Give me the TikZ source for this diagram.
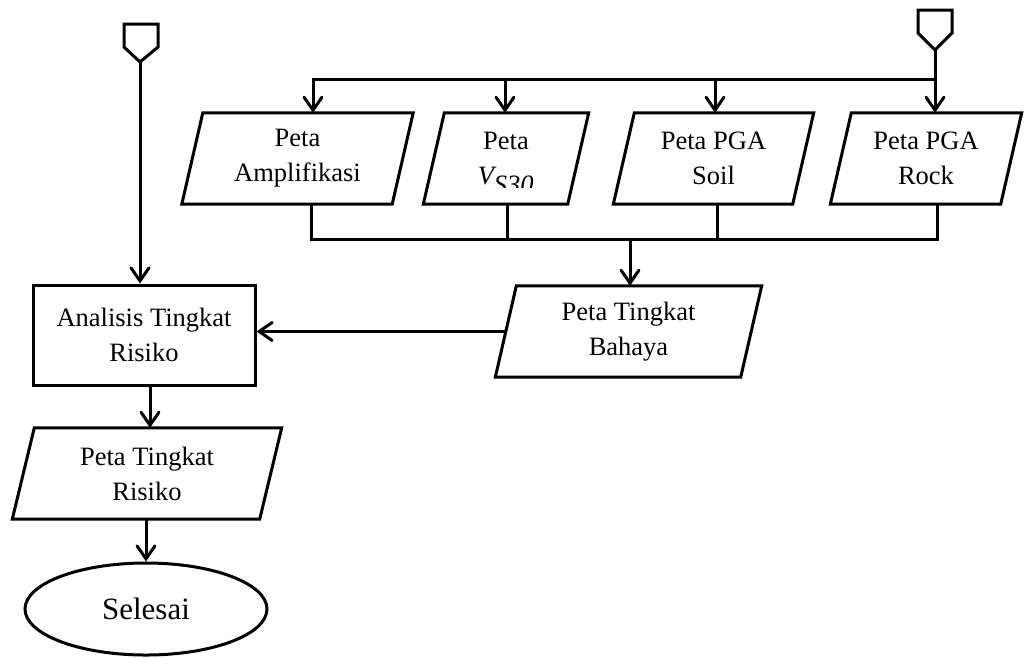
\documentclass[tikz,border=0pt]{standalone}
\usepackage{fontspec}
\setmainfont{Liberation Serif}
\usetikzlibrary{arrows.meta,shapes.geometric}
\newcommand\iopara[2]{\draw[shapeline] ([xshift=#2]#1.north west) -- ([xshift=#2]#1.north east) -- ([xshift=-#2]#1.south east) -- ([xshift=-#2]#1.south west) -- cycle;}
\begin{document}
\begin{tikzpicture}[x=1pt,y=-1pt,
  shapeline/.style={line width=3pt, line join=miter},
  conn/.style={line width=3pt, line cap=rect},
  arr/.style={conn, -{Straight Barb[length=13pt,width=18pt,line cap=round]}},
  txt/.style={font=\fontsize{26.5}{35}\selectfont, align=center, inner sep=0pt},
  iobox/.style={txt, minimum width=#1, minimum height=91pt},
  procbox/.style={txt, draw, line width=3pt, minimum width=222pt, minimum height=100pt},
  endbox/.style={ellipse, draw, line width=3pt, inner sep=0pt, minimum width=242pt, minimum height=92pt, font=\fontsize{31}{36}\selectfont}
]
\useasboundingbox (0,0) rectangle (1024,657);

% off-page connectors
\draw[shapeline] (124,24) -- (158,24) -- (158,47) -- (140,62) -- (124,47) -- cycle;
\coordinate (opL) at (140,62);
\draw[shapeline] (918,10) -- (952,10) -- (952,33) -- (935,50) -- (918,33) -- cycle;
\coordinate (opR) at (935,50);

% top row
\node[iobox=210pt] (amp) at (297.5,158.5) {Peta\\Amplifikasi};
\iopara{amp}{10.5pt}
\node[iobox=144pt] (vs) at (506,158.5) {};
\begin{scope}
\clip (423,100) rectangle (588,187.5);
\node[txt] (vslabel) at (506,163) {Peta\\$\textit{V}_{\textit{S30}}$};
\end{scope}
\iopara{vs}{10.5pt}
\node[iobox=179pt] (soil) at (713.5,158.5) {Peta PGA\\Soil};
\iopara{soil}{10.5pt}
\node[iobox=170pt] (rock) at (926,158.5) {Peta PGA\\Rock};
\iopara{rock}{10.5pt}

% hazard map
\node[iobox=245pt] (bah) at (628.5,331.5) {Peta Tingkat\\Bahaya};
\iopara{bah}{10.5pt}

% left column
\node[procbox] (ana) at (144,335) {Analisis Tingkat\\Risiko};
\node[iobox=247pt] (ris) at (147,473.5) {Peta Tingkat\\Risiko};
\iopara{ris}{11pt}
\node[endbox] (sel) at (146,609) {Selesai};

% top bus
\coordinate (tb1) at (313,79);
\coordinate (tb2) at (505,79);
\coordinate (tb3) at (715,79);
\coordinate (tb4) at (935,79);
\draw[conn] (opR) -- (tb4);
\draw[conn] (tb1) -- (tb4);
\draw[arr] (tb1) -- (tb1 |- amp.north);
\draw[arr] (tb2) -- (tb2 |- vs.north);
\draw[arr] (tb3) -- (tb3 |- soil.north);
\draw[arr] (tb4) -- (tb4 |- rock.north);

% bottom bus
\coordinate (bb1) at (311,239);
\coordinate (bb2) at (507,239);
\coordinate (bb3) at (717,239);
\coordinate (bb4) at (937,239);
\coordinate (bbm) at (630,239);
\draw[conn] (bb1 |- amp.south) -- (bb1) -- (bb4) -- (bb4 |- rock.south);
\draw[conn] (bb2 |- vs.south) -- (bb2);
\draw[conn] (bb3 |- soil.south) -- (bb3);
\draw[arr] (bbm) -- (bbm |- bah.north);

% left flow
\draw[arr] (opL) -- (opL |- ana.north);
\draw[arr] (bah.west) -- (bah.west -| ana.east);
\draw[arr] ([xshift=6pt]ana.south) -- ([xshift=6pt]ana.south |- ris.north);
\draw[arr] (sel.north |- ris.south) -- (sel.north);
\end{tikzpicture}
\end{document}
